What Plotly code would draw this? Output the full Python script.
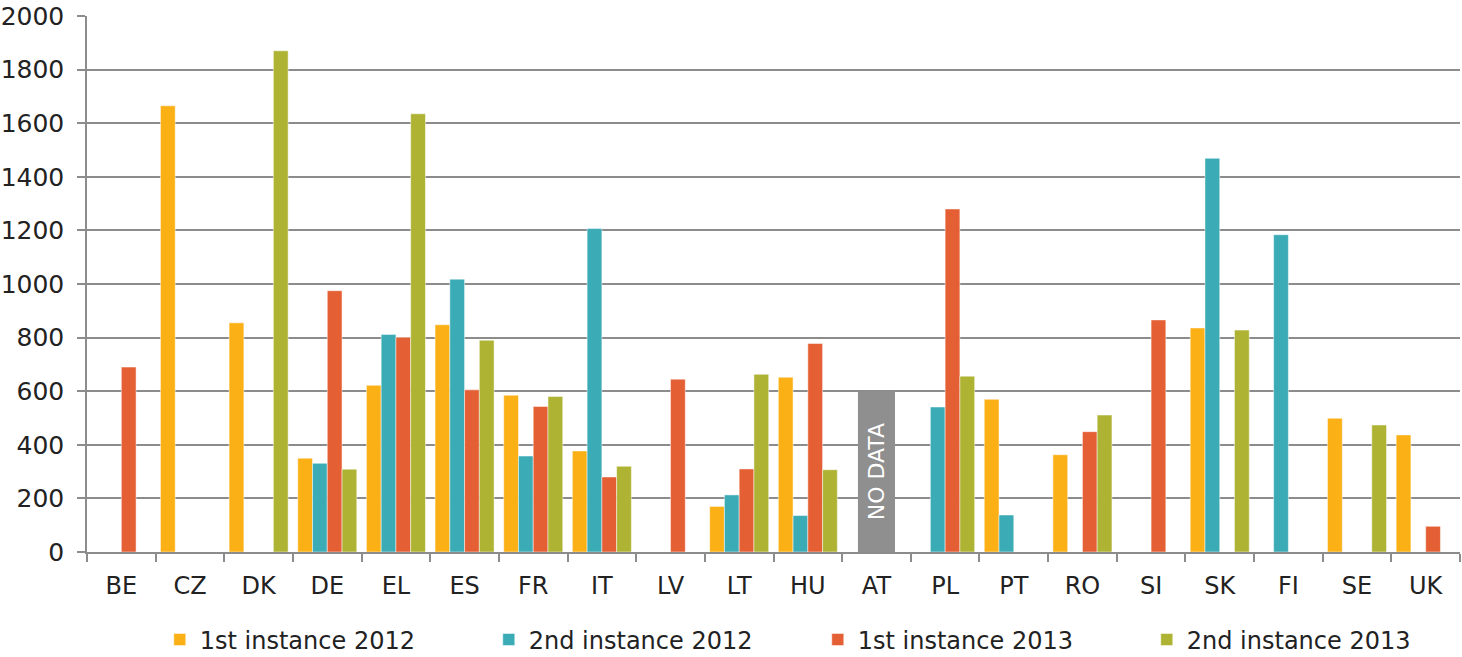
import plotly.graph_objects as go

countries = ["BE", "CZ", "DK", "DE", "EL", "ES", "FR", "IT", "LV", "LT",
             "HU", "AT", "PL", "PT", "RO", "SI", "SK", "FI", "SE", "UK"]

first_2012 = [None, 1665, 855, 350, 622, 848, 585, 377, None, 170,
              652, None, None, 570, 363, None, 836, None, 499, 437]
second_2012 = [None, None, None, 331, 812, 1018, 358, 1207, None, 213,
               136, None, 541, 138, None, None, 1469, 1184, None, None]
first_2013 = [690, None, None, 975, 801, 605, 543, 280, 645, 310,
              778, None, 1280, None, 449, 866, None, None, None, 96]
second_2013 = [None, None, 1870, 309, 1635, 790, 580, 320, None, 663,
               307, None, 656, None, 511, None, 828, None, 474, None]

no_data_country = ["AT"]
no_data_value = [600]
no_data_label = ["NO DATA"]

series = [
    ("1st instance 2012", first_2012, "#FBB116"),
    ("2nd instance 2012", second_2012, "#3BABB6"),
    ("1st instance 2013", first_2013, "#E55F35"),
    ("2nd instance 2013", second_2013, "#AEB334"),
]

FONT = "DejaVu Sans"
TXT = "#222222"
GRID = "#8C8C8C"

fig = go.Figure()
for name, vals, color in series:
    fig.add_trace(go.Bar(
        name=name, x=countries, y=vals,
        marker=dict(color=color, line=dict(color="rgba(255,255,255,0.6)", width=0.8)),
    ))

fig.add_trace(go.Bar(
    x=no_data_country, y=no_data_value, text=no_data_label,
    width=0.54, offset=-0.27,
    marker=dict(color="#8F8F8F", line=dict(width=0)),
    textposition="inside", textangle=-90, insidetextanchor="middle",
    textfont=dict(family=FONT, size=22, color="white"),
    showlegend=False, hoverinfo="skip",
))

fig.update_layout(
    width=1462, height=657,
    barmode="group", bargap=0.14, bargroupgap=0,
    plot_bgcolor="white", paper_bgcolor="white",
    margin=dict(l=87, r=2, t=16, b=105, autoexpand=False),
    font=dict(family=FONT, color=TXT),
    legend=dict(
        orientation="h", x=0.053, xanchor="left", y=-0.164, yanchor="middle",
        font=dict(family=FONT, size=24, color=TXT),
        entrywidth=284, entrywidthmode="pixels", itemwidth=30,
        traceorder="normal",
    ),
)

fig.update_yaxes(
    range=[0, 2000], dtick=200, tick0=0,
    showgrid=True, gridcolor=GRID, gridwidth=1.5,
    showline=True, linecolor=GRID, linewidth=1.5,
    ticks="outside", ticklen=8, tickcolor=GRID, tickwidth=1.5,
    tickfont=dict(family=FONT, size=25, color=TXT),
    ticklabelstandoff=8, zeroline=False,
)
fig.update_xaxes(
    categoryorder="array", categoryarray=countries,
    range=[-0.5, 19.5],
    showline=True, linecolor=GRID, linewidth=1.5,
    ticks="outside", ticklen=8, tickcolor=GRID, tickwidth=1.5,
    tickson="boundaries",
    tickfont=dict(family=FONT, size=24, color=TXT),
    ticklabelstandoff=11, showgrid=False,
)

fig.write_html(
    "out.html",
    config={"displayModeBar": False},
    post_script="document.body.style.margin='0';document.body.style.overflow='hidden';",
)
